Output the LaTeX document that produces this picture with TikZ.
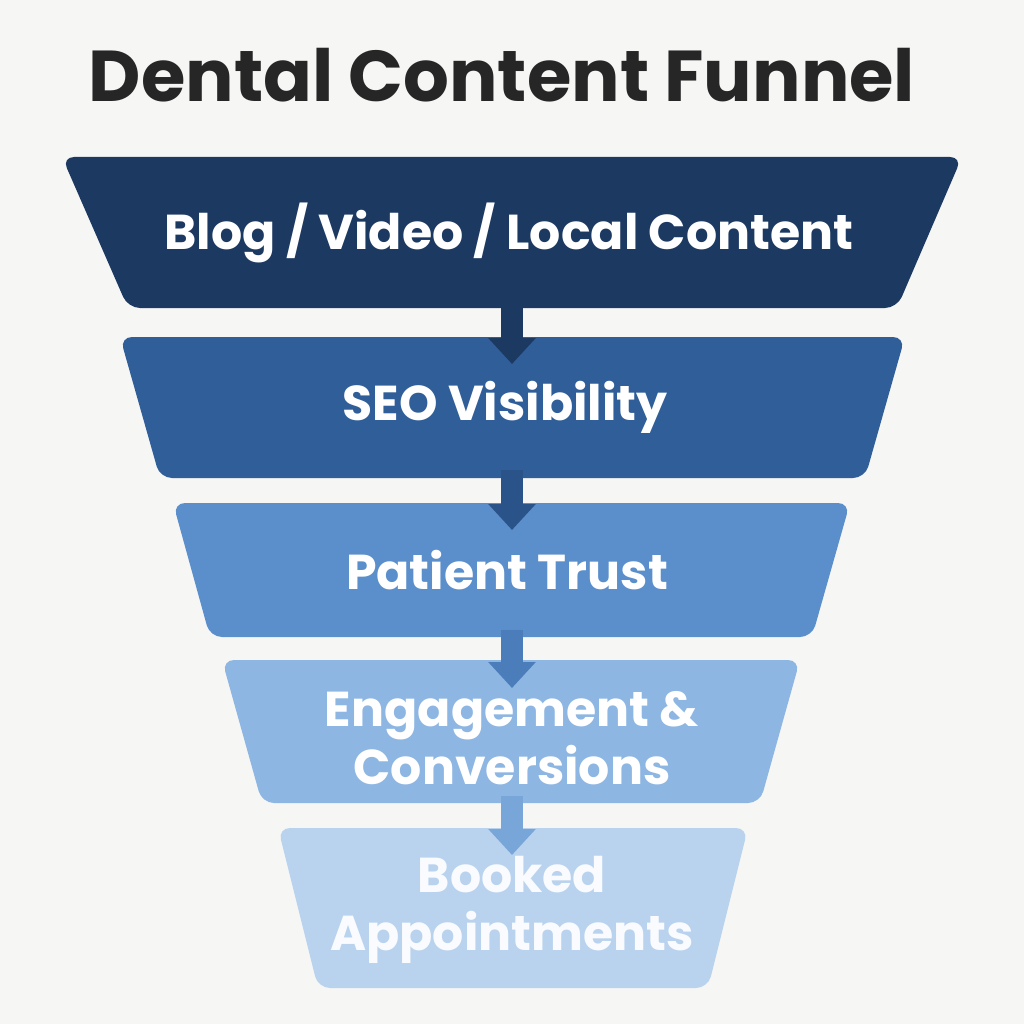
\documentclass[tikz,border=0pt]{standalone}
\usepackage{fontspec}
\setmainfont{Poppins}
\usetikzlibrary{arrows.meta}
\definecolor{bg}{HTML}{F6F6F5}
\definecolor{cA}{HTML}{1C3962}
\definecolor{cB}{HTML}{2F5E98}
\definecolor{cC}{HTML}{5B8FCB}
\definecolor{cD}{HTML}{8DB6E3}
\definecolor{cE}{HTML}{B9D3EE}
\definecolor{aB}{HTML}{2A5489}
\definecolor{aC}{HTML}{4A7DB9}
\definecolor{aD}{HTML}{78A6D8}
\begin{document}
\begin{tikzpicture}[x=1pt,y=-1pt,
  layer/.style={rounded corners=12pt},
  lbl/.style={text=white,font=\fontsize{49}{56}\selectfont\bfseries,align=center},
  conn/.style={line width=22pt,-{Triangle[width=46pt,length=26pt]}}]
\fill[bg] (0,0) rectangle (1024,1024);
\useasboundingbox (0,0) rectangle (1024,1024);
\node[text=black!85,font=\fontsize{72}{76}\selectfont\bfseries] (title) at (502,75) {Dental Content Funnel};
% layers
\fill[layer,cA] (62,157) -- (962,157) -- (897,308) -- (128,308) -- cycle;
\fill[layer,cB] (120,337) -- (905,337) -- (865,478) -- (160,478) -- cycle;
\fill[layer,cC] (173,503) -- (850,503) -- (812,637) -- (210,637) -- cycle;
\fill[layer,cD] (222,660) -- (800,660) -- (760,803) -- (262,803) -- cycle;
\fill[layer,cE] (278,828) -- (748,828) -- (708,988) -- (318,988) -- cycle;
\coordinate (b1) at (512,300); \coordinate (t2) at (512,364);
\coordinate (b2) at (512,470); \coordinate (t3) at (512,530);
\coordinate (b3) at (512,630); \coordinate (t4) at (512,688);
\coordinate (b4) at (512,796); \coordinate (t5) at (512,855);
\draw[conn,cA] (b1) -- (t2);
\draw[conn,aB] (b2) -- (t3);
\draw[conn,aC] (b3) -- (t4);
\draw[conn,aD] (b4) -- (t5);
\node[lbl] (l1) at (509,233) {Blog / Video / Local Content};
\node[lbl] (l2) at (505,407) {SEO Visibility};
\node[lbl] (l3) at (507,570) {Patient Trust};
\node[lbl] (l4) at (512,738) {Engagement \&\\[2pt]Conversions};
\node[lbl,text=white!92!cE] (l5) at (512,910) {Booked\\[2pt]Appointments};
\end{tikzpicture}
\end{document}
